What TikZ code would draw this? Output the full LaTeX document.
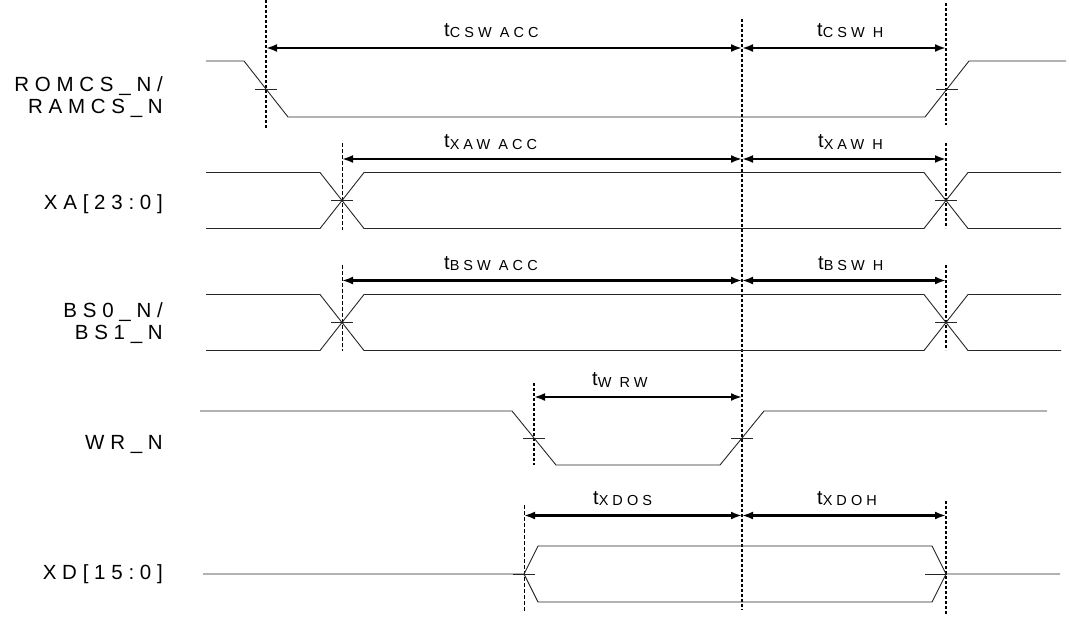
\documentclass[tikz,border=0pt]{standalone}
\usepackage{fontspec}
\usepackage{tikz}
\usetikzlibrary{arrows.meta}
\newfontfamily\sigfont[LetterSpace=28]{Liberation Sans}
\newcommand{\tparam}[1]{t\raisebox{-1.5pt}{\fontsize{14.5}{16}\selectfont #1}}

\begin{document}
\begin{tikzpicture}[x=1pt,y=-1pt,
    sig/.style={line width=0.9pt,black!85},
    guide/.style={line width=2pt,dash pattern=on 3pt off 2pt},
    guidethin/.style={line width=1pt,dash pattern=on 4pt off 2pt},
    dim/.style={line width=2.8pt,{Latex[length=11pt,width=8pt]}-{Latex[length=11pt,width=8pt]}},
    signame/.style={anchor=east,align=right,inner sep=0pt,font=\sigfont\fontsize{20.5}{22.5}\selectfont},
    tname/.style={anchor=base west,inner sep=0pt,font=\sigfont\fontsize{20}{22.5}\selectfont}]
    \useasboundingbox (0,0) rectangle (1070,616);
    % guide lines
    \draw[guide] (266,0)--(266,129);
    \draw[guide] (742,19)--(742,610);
    \foreach \a/\b in {3/125,143/228,265/350,501/615}
      \draw[guide] (946,\a)--(946,\b);
    \draw[guidethin] (342,143)--(342,230);
    \draw[guidethin] (342,265)--(342,351);
    \draw[guide] (534,383)--(534,465);
    \draw[guidethin] (524,505)--(524,612);
    % signals
    \draw[sig] (206,61)--(244,61)--(288,117)--(925,117)--(969,61)--(1066,61);
    \foreach \h/\l in {172.5/228.5,294.5/350.5}{
      \draw[sig] (206,\h)--(320,\h)--(364,\l)--(924,\l)--(968,\h)--(1061,\h);
      \draw[sig] (206,\l)--(320,\l)--(364,\h)--(924,\h)--(968,\l)--(1061,\l);
    }
    \draw[sig] (200,411)--(512,411)--(556,465)--(720,465)--(764,411)--(1047,411);
    \draw[sig] (203,574)--(524,574)--(538,546)--(932,546)--(946,574)--(1060,574);
    \draw[sig] (524,574)--(538,602)--(932,602)--(946,574);
    \foreach \x/\y in {266/89,947/89,342/200.5,946/200.5,342/322.5,946/322.5,534/438,742/438,524/574,936/574}
      \draw[sig] (\x-11,\y)--(\x+11,\y);
    % timing arrows
    \draw[dim] (266,48)--(742,48);
    \draw[dim] (742,48)--(946,48);
    \draw[dim] (342,159)--(742,159);
    \draw[dim] (742,159)--(946,159);
    \draw[dim] (342,280.5)--(742,280.5);
    \draw[dim] (742,280.5)--(946,280.5);
    \draw[dim] (534,397)--(742,397);
    \draw[dim] (524,515.5)--(742,515.5);
    \draw[dim] (742,515.5)--(946,515.5);
    \node[tname] (tcsacc) at (444,36) {\tparam{CSW ACC}};
    \node[tname] (tcsh) at (817,36) {\tparam{CSW H}};
    \node[tname] (txaacc) at (444,147.5) {\tparam{XAW ACC}};
    \node[tname] (txah) at (818,147.5) {\tparam{XAW H}};
    \node[tname] (tbsacc) at (444,269) {\tparam{BSW ACC}};
    \node[tname] (tbsh) at (818,269) {\tparam{BSW H}};
    \node[tname] (twrw) at (592,385.5) {\tparam{W RW}};
    \node[tname] (txdos) at (593,504) {\tparam{XDOS}};
    \node[tname] (txdoh) at (817,504) {\tparam{XDOH}};
    % signal names
    \node[signame] (cs) at (163,97) {ROMCS\_N/\\RAMCS\_N};
    \node[signame] (xa) at (163,204) {XA[23:0]};
    \node[signame] (bs) at (163,323) {BS0\_N/\\BS1\_N};
    \node[signame] (wr) at (163,444) {WR\_N};
    \node[signame] (xd) at (163,574) {XD[15:0]};
\end{tikzpicture}
\end{document}
